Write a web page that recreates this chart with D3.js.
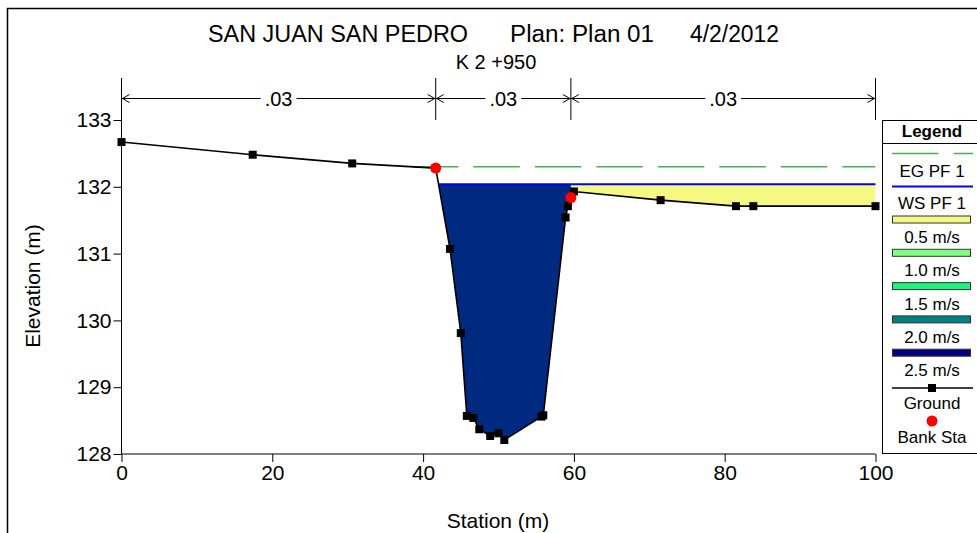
<!DOCTYPE html>
<html>
<head>
<meta charset="utf-8">
<script src="https://cdn.jsdelivr.net/npm/d3@7"></script>
<style>
  body { margin: 0; background: #fff; }
  svg { display: block; font-family: "Liberation Sans", Arial, sans-serif; }
</style>
</head>
<body>
<div id="chart"></div>
<script>
// ground profile (station m, elevation m)
const stations = [0, 17.4, 30.6, 41.67, 43.57, 45.0, 45.8, 46.66, 47.45, 48.9, 50.0, 50.77, 55.7, 55.94, 58.9, 59.2, 59.6, 60.0, 71.5, 81.5, 83.8, 100]
const elevations = [132.67, 132.48, 132.35, 132.28, 131.07, 129.81, 128.57, 128.54, 128.37, 128.27, 128.31, 128.21, 128.56, 128.58, 131.54, 131.71, 131.84, 131.93, 131.80, 131.71, 131.71, 131.71]
const bankStations = [41.67, 59.6]
const nBreaks = [0, 41.67, 59.6, 100]
const nValues = [".03", ".03", ".03"]
const wsElev = 132.04
const egElev = 132.30
// mean velocity of each subsection (m/s)
const subVelocity = [0, 2.34, 0.3]
const velLabels = ["0.5 m/s", "1.0 m/s", "1.5 m/s", "2.0 m/s", "2.5 m/s"]
const velSteps = [0.5, 1.0, 1.5, 2.0, 2.5]
const xTicks = [0, 20, 40, 60, 80, 100]
const yTicks = [128, 129, 130, 131, 132, 133]
const titleParts = ["SAN JUAN SAN PEDRO", "Plan: Plan 01", "4/2/2012"]

const W = 977, H = 533
const ground = stations.map((s, i) => ({s, z: elevations[i]}))

const x = d3.scaleLinear().domain([0, 100]).range([121.5, 875.5])
const y = d3.scaleLinear().domain([128, 133]).range([454, 120])
const velColor = d3.scaleLinear()
    .domain(velSteps)
    .range(["#f5f982", "#80ff80", "#1ef580", "#008080", "#000080"])
    .clamp(true)

const svg = d3.select("#chart").append("svg")
    .attr("width", W).attr("height", H)

// frame
svg.append("path").attr("d", `M7.5,${H} V8.5 H${W}`)
    .attr("fill", "none").attr("stroke", "#000").attr("stroke-width", 1.5)

function groundAt(s) {
  for (let i = 1; i < ground.length; i++) {
    const a = ground[i - 1], b = ground[i]
    if (s <= b.s) return a.z + (b.z - a.z) * (s - a.s) / (b.s - a.s)
  }
  return ground[ground.length - 1].z
}

// points along the ground between a and b, plus crossings with level
function profile(a, b, level) {
  const pts = [{s: a, z: groundAt(a)}]
  ground.forEach(p => { if (p.s > a && p.s < b) pts.push(p) })
  pts.push({s: b, z: groundAt(b)})
  const out = [pts[0]]
  for (let i = 1; i < pts.length; i++) {
    const p = pts[i - 1], q = pts[i]
    if ((p.z - level) * (q.z - level) < 0) {
      const t = (level - p.z) / (q.z - p.z)
      out.push({s: p.s + t * (q.s - p.s), z: level})
    }
    out.push(q)
  }
  return out
}

// wetted extent of a level across the section
function wetRange(level) {
  const pts = profile(0, 100, level)
  const wet = pts.filter(p => p.z <= level + 1e-9)
  return [wet[0].s, wet[wet.length - 1].s]
}

// velocity fill by subsection
const area = d3.area()
    .x(d => x(d.s))
    .y0(d => y(Math.min(d.z, wsElev)))
    .y1(y(wsElev))
for (let i = 0; i < nValues.length; i++) {
  if (subVelocity[i] <= 0) continue
  svg.append("path")
      .datum(profile(nBreaks[i], nBreaks[i + 1], wsElev))
      .attr("fill", velColor(subVelocity[i]))
      .attr("d", area)
}

// water surface
const ws = wetRange(wsElev)
svg.append("line")
    .attr("x1", x(ws[0])).attr("x2", x(ws[1]))
    .attr("y1", y(wsElev)).attr("y2", y(wsElev))
    .attr("stroke", "#0000ff").attr("stroke-width", 2)

// energy grade
const eg = wetRange(egElev)
svg.append("line")
    .attr("x1", x(eg[0])).attr("x2", x(eg[1]))
    .attr("y1", y(egElev)).attr("y2", y(egElev))
    .attr("stroke", "#4caf50").attr("stroke-width", 1.5)
    .attr("stroke-dasharray", "46.5,15")

// axes
const yAxis = svg.append("g").attr("transform", `translate(${x(0)},0)`)
yAxis.call(d3.axisLeft(y).tickValues(d3.range(128, 133.001, 0.2)).tickSize(5).tickFormat(""))
yAxis.call(d3.axisLeft(y).tickValues(yTicks).tickSize(8).tickFormat(d3.format("d")))
yAxis.selectAll("path.domain").remove()
yAxis.selectAll("text").attr("font-size", 21).attr("font-family", null).attr("x", -10)
yAxis.selectAll("line").attr("stroke", "#000")

const xAxis = svg.append("g").attr("transform", `translate(0,${y(128)})`)
xAxis.call(d3.axisBottom(x).tickValues(d3.range(0, 100.001, 4)).tickSize(5).tickFormat(""))
xAxis.call(d3.axisBottom(x).tickValues(xTicks).tickSize(8).tickFormat(d3.format("d")))
xAxis.selectAll("path.domain").remove()
xAxis.selectAll("text").attr("font-size", 21).attr("font-family", null).attr("y", 11)
xAxis.selectAll("line").attr("stroke", "#000")

svg.append("line").attr("x1", x(0)).attr("x2", x(100))
    .attr("y1", y(128)).attr("y2", y(128)).attr("stroke", "#000")
svg.append("line").attr("x1", x(0)).attr("x2", x(0))
    .attr("y1", 78).attr("y2", y(128)).attr("stroke", "#000")

// manning's n bar
const nY = 98.5
nBreaks.forEach(b => {
  svg.append("line").attr("x1", x(b)).attr("x2", x(b))
      .attr("y1", 78).attr("y2", 120).attr("stroke", "#000")
})
for (let i = 0; i < nValues.length; i++) {
  const a = x(nBreaks[i]), b = x(nBreaks[i + 1]), m = (a + b) / 2
  const t = svg.append("text").attr("x", m).attr("y", nY + 7)
      .attr("text-anchor", "middle").attr("font-size", 20).text(nValues[i])
  const half = t.node().getComputedTextLength() / 2 + 4
  svg.append("path")
      .attr("d", `M${a},${nY}H${m - half}M${m + half},${nY}H${b}` +
        `M${a + 8},${nY - 4}L${a + 1},${nY}L${a + 8},${nY + 4}` +
        `M${b - 8},${nY - 4}L${b - 1},${nY}L${b - 8},${nY + 4}`)
      .attr("fill", "none").attr("stroke", "#000")
}

// ground line and points
svg.append("path").datum(ground)
    .attr("fill", "none").attr("stroke", "#000").attr("stroke-width", 1.6)
    .attr("d", d3.line().x(d => x(d.s)).y(d => y(d.z)))
svg.append("g").selectAll("rect").data(ground).join("rect")
    .attr("x", d => x(d.s) - 4).attr("y", d => y(d.z) - 4)
    .attr("width", 8).attr("height", 8).attr("fill", "#000")
svg.append("g").selectAll("circle").data(bankStations).join("circle")
    .attr("cx", d => x(d)).attr("cy", d => y(groundAt(d)))
    .attr("r", 5.5).attr("fill", "#ff0000")

// titles (condensed face in the original, so widths are fixed)
const titleX = [208, 510, 690], titleW = [260, 144, 89]
titleParts.forEach((t, i) => {
  svg.append("text").attr("x", titleX[i]).attr("y", 42)
      .attr("font-size", 23).attr("textLength", titleW[i])
      .attr("lengthAdjust", "spacingAndGlyphs").text(t)
})
svg.append("text").attr("x", 496).attr("y", 69).attr("text-anchor", "middle")
    .attr("font-size", 20).text("K 2 +950")
svg.append("text").attr("x", 498).attr("y", 528).attr("text-anchor", "middle")
    .attr("font-size", 21).text("Station (m)")
svg.append("text").attr("transform", "translate(40,286) rotate(-90)")
    .attr("text-anchor", "middle").attr("font-size", 21).text("Elevation (m)")

// legend
const lg = svg.append("g")
const lx = 882.5, lc = 932
lg.append("rect").attr("x", lx).attr("y", 120.5).attr("width", 120).attr("height", 333)
    .attr("fill", "#fff").attr("stroke", "#000")
lg.append("line").attr("x1", lx).attr("x2", W).attr("y1", 143.5).attr("y2", 143.5).attr("stroke", "#000")
lg.append("text").attr("x", lc).attr("y", 137).attr("text-anchor", "middle")
    .attr("font-size", 17).attr("font-weight", "bold").text("Legend")
const lab = (t, yy) => lg.append("text").attr("x", lc).attr("y", yy)
    .attr("text-anchor", "middle").attr("font-size", 17).attr("xml:space", "preserve").text(t)
lg.append("line").attr("x1", 892).attr("x2", 973).attr("y1", 153.5).attr("y2", 153.5)
    .attr("stroke", "#4caf50").attr("stroke-width", 1.5).attr("stroke-dasharray", "46.5,15")
lab("EG PF 1", 177)
lg.append("line").attr("x1", 892).attr("x2", 973).attr("y1", 186.5).attr("y2", 186.5)
    .attr("stroke", "#0000ff").attr("stroke-width", 2)
lab("WS PF 1", 209)
velSteps.forEach((v, i) => {
  const yy = 216 + i * 33.3
  lg.append("rect").attr("x", 892.5).attr("y", yy).attr("width", 78).attr("height", 7)
      .attr("fill", velColor(v)).attr("stroke", "#333").attr("stroke-width", 1)
  lab(velLabels[i], yy + 27)
})
lg.append("line").attr("x1", 892).attr("x2", 973).attr("y1", 388).attr("y2", 388)
    .attr("stroke", "#000").attr("stroke-width", 1.6)
lg.append("rect").attr("x", lc - 4).attr("y", 384).attr("width", 8).attr("height", 8).attr("fill", "#000")
lab("Ground", 409)
lg.append("circle").attr("cx", lc).attr("cy", 421).attr("r", 5.5).attr("fill", "#ff0000")
lab("Bank Sta", 443)
</script>
</body>
</html>
